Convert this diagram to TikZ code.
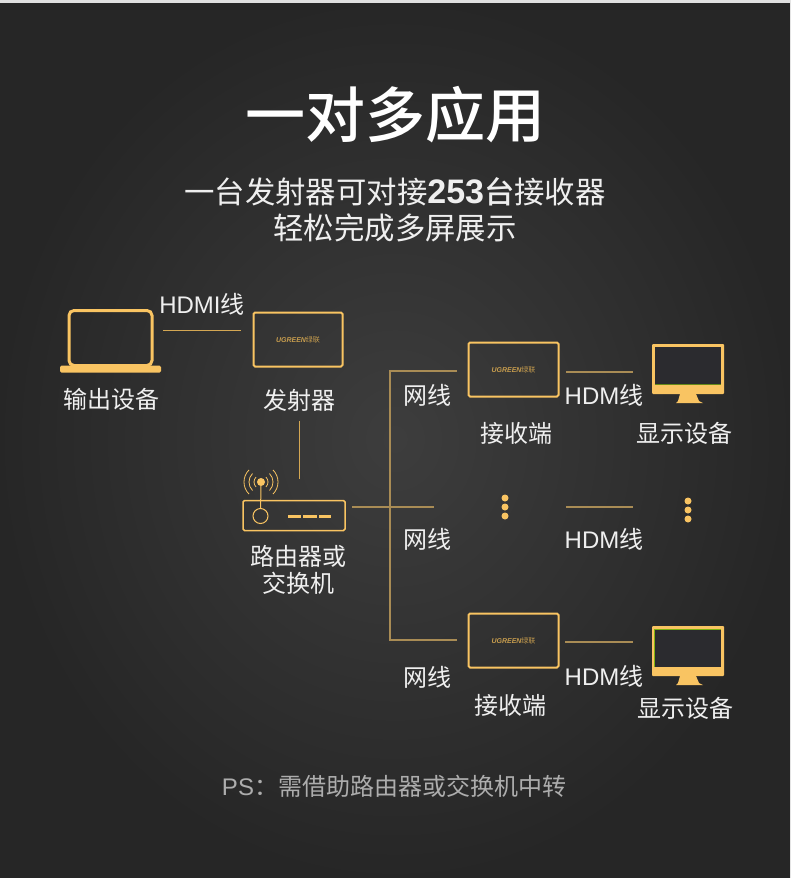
\documentclass[tikz,border=0pt]{standalone}
\usepackage{fontspec}
\setmainfont{Noto Sans CJK SC}
\newfontfamily\headfont{Noto Sans CJK SC Medium}
\newfontfamily\latinfont{Liberation Sans}
\definecolor{gold}{HTML}{F9C462}
\definecolor{dimgold}{HTML}{A98C55}
\definecolor{panel}{HTML}{2B2B2F}
\definecolor{leaf}{HTML}{7FB20E}
\definecolor{softwhite}{HTML}{EFEFEF}

\begin{document}
\begin{tikzpicture}[
  x=1pt,y=-1pt,
  caption/.style={text=softwhite,inner sep=0pt,font=\fontsize{24}{27}\selectfont},
  unitbox/.style={draw=gold,line width=2pt,rounded corners=1.5pt,minimum width=89pt,minimum height=54pt,inner sep=0pt,
    text=gold!80!black,font=\fontsize{7}{8}\selectfont},
  screen/.style={fill=gold,rounded corners=1pt,minimum width=72pt,minimum height=50pt,inner sep=0pt},
  glass/.style={fill=panel,minimum width=66pt,minimum height=37pt,inner sep=0pt},
  wire/.style={dimgold,line width=1.2pt},
  brightwire/.style={gold!85!black,line width=1pt},
  dotmark/.style={circle,fill=gold,minimum size=7pt,inner sep=0pt}
]
  % Backdrop.
  \shade[inner color=black!76,outer color=black!85] (0,0) rectangle (790,878);
  \fill[black!12] (0,0) rectangle (790,3);
  \useasboundingbox (0,0) rectangle (790,878);

  % Heading.
  \node[text=white,inner sep=0pt,font=\fontsize{60}{66}\selectfont\headfont] (heading) at (395,115) {一对多应用};
  \node[text=softwhite,inner sep=0pt,font=\fontsize{30.4}{36}\selectfont] (subA) at (395,192) {一台发射器可对接{\fontsize{34}{36}\selectfont\latinfont\bfseries 253}{\headfont 台}接收器};
  \node[text=softwhite,inner sep=0pt,font=\fontsize{30.4}{36}\selectfont] (subB) at (395,228) {轻松完成多屏展示};

  % Laptop and sender.
  \node[draw=gold,line width=3pt,rounded corners=5pt,minimum width=83pt,minimum height=55pt,inner sep=0pt] (laptop) at (110.5,338) {};
  \node[fill=gold,rounded corners=1.5pt,minimum width=101pt,minimum height=7pt,inner sep=0pt] (laptopbase) at (110.5,369) {};
  \node[caption] (laptoptext) at (111,399) {输出设备};
  \node[unitbox] (sender) at (298,339.5) {{\latinfont\bfseries\itshape UGREEN}绿联};
  \node[caption] (sendertext) at (299,400) {发射器};
  \node[caption] (hdmitext) at (202,304) {{\latinfont HDMI}线};
  \coordinate (hdmiA) at (163,330);
  \coordinate (hdmiB) at (241,330);
  \draw[brightwire] (hdmiA) -- (hdmiB);
  \coordinate (uplinkA) at (299,421);
  \coordinate (uplinkB) at (299,479);
  \draw[brightwire] (uplinkA) -- (uplinkB);

  % Router.
  \node[draw=gold,line width=1.5pt,rounded corners=1.5pt,minimum width=102pt,minimum height=30pt,inner sep=0pt] (router) at (294,515.5) {};
  \node[draw=gold,line width=1pt,circle,minimum size=15pt,inner sep=0pt] (routerknob) at (260.5,516) {};
  \node[circle,fill=gold,minimum size=8pt,inner sep=0pt] (routertip) at (261,482) {};
  \draw[gold,line width=1pt] (routerknob) -- (routertip);
  \draw[gold,line width=.8pt]
    (261,482) ++(-45:7) arc (-45:45:7) (261,482) ++(-45:12) arc (-45:45:12) (261,482) ++(-45:17) arc (-45:45:17)
    (261,482) ++(135:7) arc (135:225:7) (261,482) ++(135:12) arc (135:225:12) (261,482) ++(135:17) arc (135:225:17);
  \draw[gold,line width=3pt] (288,516) -- (301,516) (303,516) -- (317,516) (319,516) -- (331,516);
  \node[caption] (routertextA) at (298,556) {路由器或};
  \node[caption] (routertextB) at (298,583) {交换机};

  % Branches.
  \coordinate (trunkA) at (352,507);
  \coordinate (trunkB) at (434,507);
  \coordinate (branchtop) at (390,371);
  \coordinate (branchtopend) at (457,371);
  \coordinate (branchlow) at (390,640);
  \coordinate (branchlowend) at (457,640);
  \draw[wire] (trunkA) -- (trunkB);
  \draw[wire] (branchtopend) -- (branchtop) -- (branchlow) -- (branchlowend);
  \node[caption] (nettextA) at (427,395) {网线};
  \node[caption] (nettextB) at (427,539) {网线};
  \node[caption] (nettextC) at (427,677) {网线};

  % Upper receiver and display.
  \node[unitbox,minimum width=90pt] (receiverA) at (513.5,369.5) {{\latinfont\bfseries\itshape UGREEN}绿联};
  \node[caption] (receivertextA) at (516,433) {接收端};
  \coordinate (linkAa) at (566,372);
  \coordinate (linkAb) at (633,372);
  \draw[wire] (linkAa) -- (linkAb);
  \node[caption] (hdmtextA) at (604,395) {{\latinfont HDM}线};
  \node[screen] (displayA) at (688,369) {};
  \node[glass] (glassA) at (688,365.5) {};
  \draw[leaf!70!panel,line width=.5pt] (glassA.south west) -- (glassA.south east);
  \fill[gold] (680,394) -- (696,394) -- (699,401) -- (703,403) -- (676,403) -- (678,401) -- cycle;
  \node[caption] (displaytextA) at (684,433) {显示设备};

  % Middle row.
  \node[dotmark] (dotA) at (505,498) {};
  \node[dotmark] (dotB) at (505,507) {};
  \node[dotmark] (dotC) at (505,516) {};
  \coordinate (linkBa) at (566,507);
  \coordinate (linkBb) at (633,507);
  \draw[wire] (linkBa) -- (linkBb);
  \node[caption] (hdmtextB) at (604,539) {{\latinfont HDM}线};
  \node[dotmark] (dotD) at (688,501) {};
  \node[dotmark] (dotE) at (688,510) {};
  \node[dotmark] (dotF) at (688,519) {};

  % Lower receiver and display.
  \node[unitbox,minimum width=90pt] (receiverB) at (513.5,640.5) {{\latinfont\bfseries\itshape UGREEN}绿联};
  \node[caption] (receivertextB) at (510,705) {接收端};
  \coordinate (linkCa) at (565,642);
  \coordinate (linkCb) at (633,642);
  \draw[wire] (linkCa) -- (linkCb);
  \node[caption] (hdmtextC) at (604,676) {{\latinfont HDM}线};
  \node[screen] (displayB) at (688,651) {};
  \node[glass] (glassB) at (688,648) {};
  \draw[leaf,line width=.8pt] (glassB.south west) -- (glassB.north west) -- (glassB.north east);
  \fill[gold] (680,676) -- (696,676) -- (699,683) -- (703,685) -- (676,685) -- (678,683) -- cycle;
  \node[caption] (displaytextB) at (685,708) {显示设备};

  % Note.
  \node[text=black!32,inner sep=0pt,font=\fontsize{24}{27}\selectfont] (note) at (394,786) {{\latinfont PS}：需借助路由器或交换机中转};
\end{tikzpicture}
\end{document}
